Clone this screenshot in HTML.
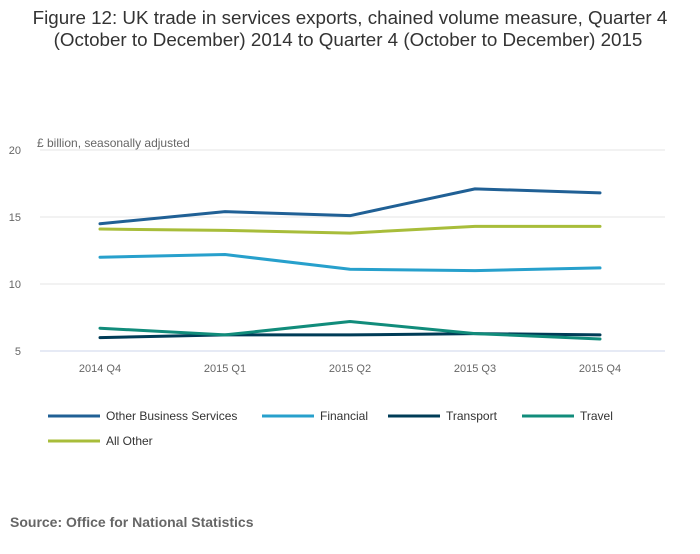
<!DOCTYPE html>
<html><head><meta charset="utf-8"><style>
body{margin:0;background:#fff;font-family:"Liberation Sans",sans-serif;}
svg text{font-family:"Liberation Sans",sans-serif;}
</style></head><body>
<svg id="chart" width="700" height="549">
<text x="350" y="24" text-anchor="middle" font-size="18.8" fill="#333">Figure 12: UK trade in services exports, chained volume measure, Quarter 4</text>
<text x="348" y="46" text-anchor="middle" font-size="18.8" fill="#333">(October to December) 2014 to Quarter 4 (October to December) 2015</text>
<text x="37" y="147" font-size="12" fill="#666">£ billion, seasonally adjusted</text>
<g id="grid"></g><g id="lines"></g><g id="legend"></g>
<text x="10" y="527" font-size="14" font-weight="bold" fill="#666">Source: Office for National Statistics</text>
</svg>
<script>
const categories=["2014 Q4","2015 Q1","2015 Q2","2015 Q3","2015 Q4"];
const yTicks=[5,10,15,20];
const seriesNames=["Other Business Services","Financial","Transport","Travel","All Other"];
const otherBusiness=[14.5,15.4,15.1,17.1,16.8];
const financial=[12.0,12.2,11.1,11.0,11.2];
const transport=[6.0,6.2,6.2,6.3,6.2];
const travel=[6.7,6.2,7.2,6.3,5.9];
const allOther=[14.1,14.0,13.8,14.3,14.3];
const colors=["#206095","#27a0cc","#003c57","#118c7b","#a8bd3a"];
const data=[otherBusiness,financial,transport,travel,allOther];
const NS="http://www.w3.org/2000/svg";
const y=v=>351-(v-5)*201/15;
const x=i=>100+i*125;
function mk(t,a,p){const e=document.createElementNS(NS,t);for(const k in a)e.setAttribute(k,a[k]);p.appendChild(e);return e;}
const g=document.getElementById('grid');
yTicks.forEach(t=>{
 const l=mk('line',{x1:40,x2:665,y1:y(t),y2:y(t),stroke:t===5?'#ccd6eb':'#e6e6e6','stroke-width':1},g);
 
 
 const tx=mk('text',{x:21,y:y(t)+4,'text-anchor':'end','font-size':11,fill:'#666'},g);tx.textContent=t;
 
 
});
categories.forEach((c,i)=>{
 const tx=mk('text',{x:x(i),y:372,'text-anchor':'middle','font-size':11,fill:'#666'},g);tx.textContent=c;
 
 
});
const L=document.getElementById('lines');
data.forEach((s,k)=>{
 const p=mk('polyline',{points:s.map((v,i)=>x(i)+','+y(v)).join(' '),fill:'none',stroke:colors[k],'stroke-width':3,'stroke-linejoin':'round','stroke-linecap':'round'},L);
 
 
});
const lg=document.getElementById('legend');
const pos=[[48,416],[262,416],[388,416],[522,416],[48,441]];
seriesNames.forEach((n,k)=>{
 const [px,py]=pos[k];
 const e=mk('g',{},lg);
 
 
 mk('line',{x1:px,x2:px+52,y1:py,y2:py,stroke:colors[k],'stroke-width':3},e);
 const t=mk('text',{x:px+58,y:py+4,'font-size':12,fill:'#333'},e);t.textContent=n;
});
</script>
</body></html>
